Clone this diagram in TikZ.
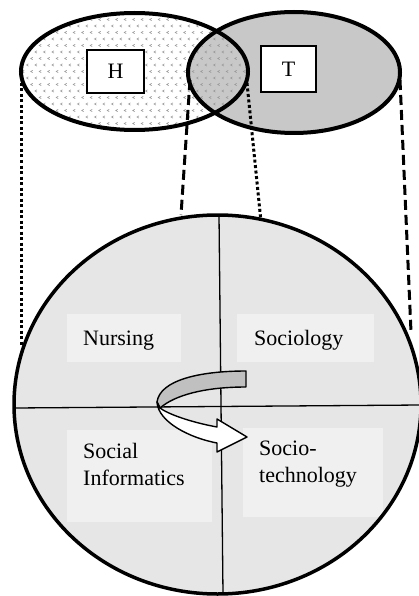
\documentclass[tikz,border=0pt]{standalone}
\usepackage{fontspec}
\setmainfont{Liberation Serif}
\definecolor{tgray}{HTML}{C8C8C8}
\definecolor{cgray}{HTML}{E6E6E6}
\definecolor{bgray}{HTML}{F0F0F0}
\definecolor{agray}{HTML}{C0C0C0}
\definecolor{pgray}{HTML}{9A9A9A}
\begin{document}
\begin{tikzpicture}[x=1pt,y=-1pt,
  font=\fontsize{22}{27}\selectfont,
  ringline/.style={line width=4pt},
  letterbox/.style={draw, line width=1.8pt, fill=white, inner sep=0pt},
  labelbox/.style={fill=bgray, inner sep=0pt},
  labeltext/.style={anchor=base west, inner sep=0pt, align=left},
  dotline/.style={line width=3pt, dash pattern=on 3pt off 2.5pt},
  dashline/.style={line width=3pt, dash pattern=on 10pt off 5pt},
  quadline/.style={line width=1.3pt},
  ribbon/.style={line width=1.4pt, line join=round}]
\useasboundingbox (0,0) rectangle (419,596);

% --- Venn ellipses
\fill[white] (134.5,71.5) ellipse [x radius=113.5pt, y radius=58.5pt];
\fill[tgray] (294,72.5) ellipse [x radius=106pt, y radius=60.5pt];
\begin{scope}
  \clip (134.5,71.5) ellipse [x radius=113.5pt, y radius=58.5pt];
  \foreach \j in {0,...,18} {
    \pgfmathsetmacro{\yy}{13+\j*6.5}
    \pgfmathsetmacro{\off}{mod(\j,2)*4.25}
    \foreach \i in {0,...,28} {
      \pgfmathsetmacro{\xx}{19+\i*8.5+\off}
      \draw[pgray, line width=0.6pt] (\xx+1,\yy-1.2) -- (\xx-1,\yy) -- (\xx+1,\yy+1.2);
    }
  }
\end{scope}
\draw[ringline] (134.5,71.5) ellipse [x radius=113.5pt, y radius=58.5pt];
\draw[ringline] (294,72.5) ellipse [x radius=106pt, y radius=60.5pt];

\node[letterbox, minimum width=57pt, minimum height=43pt] (hbox) at (115.5,71.5) {H};
\node[letterbox, minimum width=55pt, minimum height=46pt] (tbox) at (288.5,69) {T};

% --- projection lines
\coordinate (hl) at (21,83);
\coordinate (hlc) at (21,345);
\coordinate (tl) at (190,80);
\coordinate (tlc) at (181,215);
\coordinate (hr) at (247,83);
\coordinate (hrc) at (261,222);
\coordinate (tr) at (400,80);
\coordinate (trc) at (411,332);
\draw[dotline] (hl) -- (hlc);
\draw[dotline] (hr) -- (hrc);
\draw[dashline] (tl) -- (tlc);
\draw[dashline] (tr) -- (trc);

% --- big circle
\fill[cgray] (217.5,404.5) ellipse [x radius=203.5pt, y radius=189.5pt];

\node[labelbox, minimum width=114pt, minimum height=48pt] (nbox) at (124,338) {};
\node[labelbox, minimum width=137pt, minimum height=48pt] (sbox) at (305.5,338) {};
\node[labelbox, minimum width=145pt, minimum height=92pt] (sibox) at (139.5,476) {};
\node[labelbox, minimum width=140pt, minimum height=89pt] (stbox) at (313,472.5) {};

\node[labeltext] (nt) at (83,345) {Nursing};
\node[labeltext] (st) at (254,345) {Sociology};
\node[labeltext] (sit) at (83,485) {Social\\Informatics};
\node[labeltext] (stt) at (259,482.5) {Socio-\\technology};

\coordinate (qw) at (14,408);
\coordinate (qe) at (421,405);
\coordinate (qn) at (219,215);
\coordinate (qs) at (223,594);
\draw[quadline] (qw) -- (qe);
\draw[quadline] (qn) -- (qs);

% --- turning arrow
\draw[ribbon, fill=agray] (246,371) .. controls (200,371) and (160,380) .. (157,402)
  -- (160,408) .. controls (175,395) and (205,387) .. (246,387) -- cycle;
\draw[ribbon, fill=white] (157,402) .. controls (158,422) and (190,438) .. (217,443)
  -- (217,452) -- (247,437) -- (217,419) -- (217,427)
  .. controls (190,422) and (168,414) .. (160,408) -- cycle;

\draw[line width=3.5pt] (217.5,404.5) ellipse [x radius=203.5pt, y radius=189.5pt];
\end{tikzpicture}
\end{document}
